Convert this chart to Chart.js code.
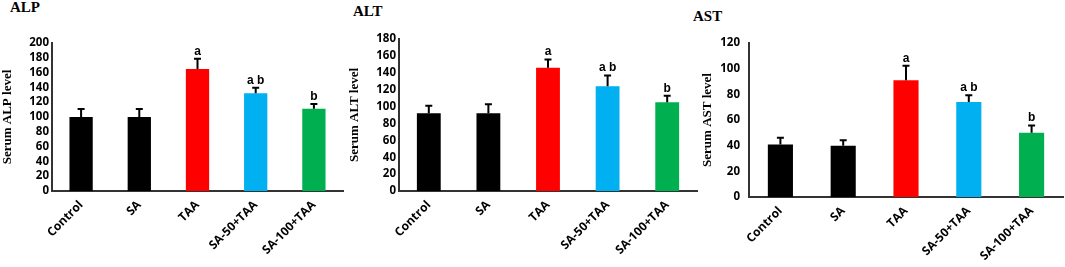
<!DOCTYPE html>
<html>
<head>
<meta charset="utf-8">
<script src="https://cdn.jsdelivr.net/npm/chart.js@4.4.1/dist/chart.umd.min.js"></script>
<style>
  body { margin: 0; background: #fff; width: 1065px; height: 267px; position: relative; overflow: hidden; }
  .panel { position: absolute; top: 0; height: 267px; }
  .ttl { position: absolute; font: bold 15px "Liberation Serif", "Times New Roman", serif; line-height: 15px; color: #000; }
</style>
</head>
<body>
<div class="ttl" style="left:10px;top:0px">ALP</div>
<div class="ttl" style="left:353px;top:4px">ALT</div>
<div class="ttl" style="left:693px;top:9px">AST</div>
<div class="panel" style="left:0px;width:350px"><canvas id="chart0" width="350" height="267"></canvas></div>
<div class="panel" style="left:347px;width:355px"><canvas id="chart1" width="355" height="267"></canvas></div>
<div class="panel" style="left:700px;width:365px"><canvas id="chart2" width="365" height="267"></canvas></div>
<script>
const groups = ["Control", "SA", "TAA", "SA-50+TAA", "SA-100+TAA"];
const letters = ["", "", "a", "a b", "b"];

const alpMean = [100, 100, 165, 132, 111];
const alpErr = [12, 12, 15, 9, 8];

const altMean = [92, 92, 146, 124, 105];
const altErr = [10, 12, 11, 14, 9];

const astMean = [41, 40, 91, 74, 50];
const astErr = [6, 5, 12, 6, 6.5];

const barColors = ["#000000", "#000000", "#ff0000", "#00b0f0", "#00b050"];

// upper error bar + significance letter over each bar
const errPlugin = {
  id: "errbars",
  afterDatasetsDraw(chart) {
    const ctx = chart.ctx;
    const meta = chart.getDatasetMeta(0);
    const ds = chart.data.datasets[0];
    const y = chart.scales.y;
    ctx.save();
    meta.data.forEach((bar, i) => {
      const top = y.getPixelForValue(ds.data[i] + ds.err[i]);
      ctx.strokeStyle = "#000";
      ctx.lineWidth = 2;
      ctx.beginPath();
      ctx.moveTo(bar.x, bar.y);
      ctx.lineTo(bar.x, top);
      ctx.moveTo(bar.x - 3.5, top + 1);
      ctx.lineTo(bar.x + 3.5, top + 1);
      ctx.stroke();
      if (ds.letters[i]) {
        ctx.fillStyle = "#000";
        ctx.font = "bold 12px 'Liberation Sans', Arial, sans-serif";
        ctx.textAlign = "center";
        ctx.textBaseline = "alphabetic";
        ctx.fillText(ds.letters[i], bar.x, top - 3);
      }
    });
    ctx.restore();
  }
};

function makeChart(id, means, errs, yMax, yTitle, cfg) {
  const ctx = document.getElementById(id).getContext("2d");
  return new Chart(ctx, {
    type: "bar",
    data: {
      labels: groups,
      datasets: [{
        data: means,
        err: errs,
        letters: letters,
        backgroundColor: barColors,
        categoryPercentage: 1,
        barPercentage: 0.4
      }]
    },
    options: {
      responsive: false,
      animation: false,
      layout: { padding: { top: cfg.top, right: cfg.right, left: 0, bottom: 0 } },
      plugins: { legend: { display: false }, tooltip: { enabled: false } },
      scales: {
        x: {
          grid: { display: false, drawTicks: false },
          border: { display: true, color: "#333", width: 2 },
          ticks: {
            color: "#000",
            autoSkip: false,
            font: { family: "'Open Sans', sans-serif", weight: "bold", size: 12 },
            minRotation: 45,
            maxRotation: 45,
            padding: 7
          },
          afterFit: (s) => { s.height = cfg.xh; }
        },
        y: {
          min: 0,
          max: yMax,
          grid: { display: false, drawTicks: false },
          border: { display: true, color: "#333", width: 2 },
          ticks: {
            stepSize: 20,
            autoSkip: false,
            color: "#000",
            font: { family: "'Open Sans', sans-serif", weight: "bold", size: 11.5 },
            padding: cfg.tp
          },
          title: {
            display: true,
            text: yTitle,
            color: "#000",
            font: { family: "'Liberation Serif', 'Times New Roman', serif", weight: "bold", size: 13 },
            padding: { top: 0, bottom: 0 }
          },
          afterFit: (s) => { s.width = cfg.yw; }
        }
      }
    },
    plugins: [errPlugin]
  });
}

makeChart("chart0", alpMean, alpErr, 200, "Serum ALP level", { top: 43, right: 7, xh: 76, yw: 52, tp: 3 });
makeChart("chart1", altMean, altErr, 180, "Serum ALT level", { top: 39, right: 5, xh: 76, yw: 52, tp: 3 });
makeChart("chart2", astMean, astErr, 120, "Serum AST level", { top: 43, right: 2, xh: 70, yw: 49, tp: 9 });
</script>
</body>
</html>
